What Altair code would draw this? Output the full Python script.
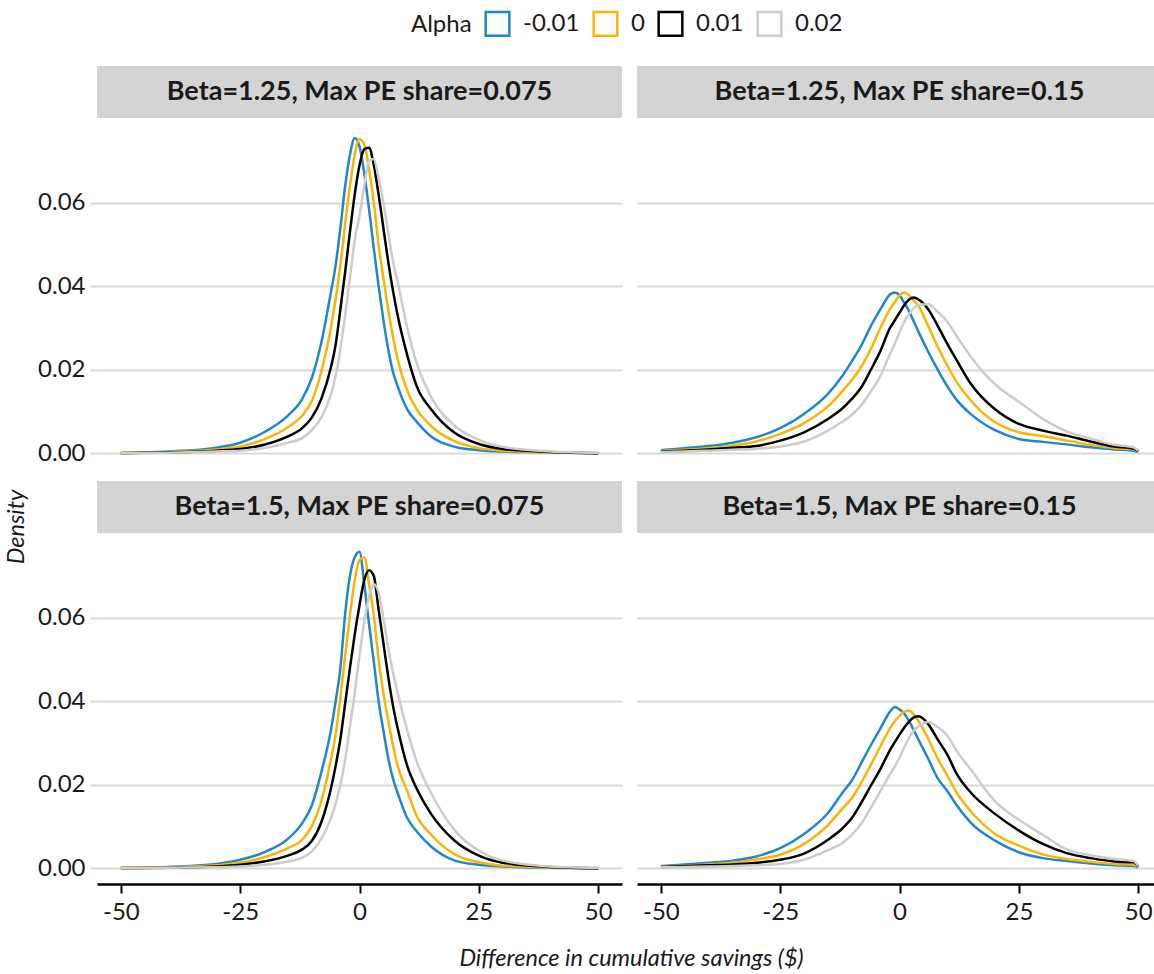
import altair as alt
import pandas as pd

FONT = "Lato"
ALPHAS = ["-0.01", "0", "0.01", "0.02"]
COLORS = ["#1f88cc", "#fcb400", "#000000", "#cccccc"]

TITLES = [
    "Beta=1.25, Max PE share=0.075",
    "Beta=1.25, Max PE share=0.15",
    "Beta=1.5, Max PE share=0.075",
    "Beta=1.5, Max PE share=0.15",
]

X_TICKS = [-50, -25, 0, 25, 50]
Y_TICKS = [0.0, 0.02, 0.04, 0.06]

# x grid used for the narrow (Max PE share = 0.075) panels
X_NARROW = [-50, -40, -30, -25, -20, -15, -12, -10, -8, -6, -5, -4, -3, -2, -1, 0,
            1, 2, 3, 4, 5, 6, 7, 8, 10, 12, 15, 20, 25, 30, 40, 50]
# x grid used for the wide (Max PE share = 0.15) panels
X_WIDE = [-50, -45, -40, -35, -30, -25, -20, -15, -12, -10, -8, -6, -4, -2, -1, 0,
          1, 2, 3, 4, 6, 8, 10, 12, 15, 20, 25, 30, 35, 40, 45, 49, 50]

# Beta=1.25, Max PE share=0.075
TL_M001 = [0.0001, 0.0004, 0.0013, 0.0025, 0.0050, 0.0090, 0.0130, 0.0180, 0.0265, 0.0385,
           0.0450, 0.0540, 0.0640, 0.0715, 0.0755, 0.0735, 0.0670, 0.0585, 0.0490, 0.0400,
           0.0320, 0.0250, 0.0195, 0.0160, 0.0105, 0.0075, 0.0040, 0.0015, 0.0007, 0.0004,
           0.0002, 0.0000]
TL_0 = [0.0001, 0.0003, 0.0009, 0.0016, 0.0033, 0.0062, 0.0090, 0.0125, 0.0195, 0.0300,
        0.0370, 0.0450, 0.0550, 0.0640, 0.0715, 0.0752, 0.0740, 0.0680, 0.0600, 0.0500,
        0.0420, 0.0345, 0.0280, 0.0225, 0.0150, 0.0105, 0.0065, 0.0028, 0.0012, 0.0006,
        0.0002, 0.0000]
TL_001 = [0.0000, 0.0002, 0.0006, 0.0010, 0.0020, 0.0040, 0.0060, 0.0085, 0.0130, 0.0205,
          0.0260, 0.0345, 0.0435, 0.0530, 0.0620, 0.0690, 0.0728, 0.0732, 0.0690, 0.0620,
          0.0540, 0.0460, 0.0390, 0.0330, 0.0235, 0.0160, 0.0105, 0.0048, 0.0022, 0.0010,
          0.0003, 0.0000]
TL_002 = [0.0000, 0.0001, 0.0004, 0.0006, 0.0012, 0.0025, 0.0036, 0.0055, 0.0085, 0.0140,
          0.0185, 0.0250, 0.0330, 0.0420, 0.0510, 0.0570, 0.0640, 0.0700, 0.0705, 0.0660,
          0.0600, 0.0530, 0.0460, 0.0410, 0.0300, 0.0215, 0.0135, 0.0065, 0.0032, 0.0015,
          0.0004, 0.0001]

# Beta=1.25, Max PE share=0.15
TR_M001 = [0.0007, 0.0012, 0.0017, 0.0025, 0.0038, 0.0060, 0.0094, 0.0142, 0.0185, 0.0220,
           0.0258, 0.0305, 0.0345, 0.0380, 0.0385, 0.0378, 0.0360, 0.0340, 0.0315, 0.0290,
           0.0243, 0.0200, 0.0160, 0.0127, 0.0093, 0.0055, 0.0034, 0.0027, 0.0021, 0.0014,
           0.0009, 0.0006, 0.0003]
TR_0 = [0.0005, 0.0008, 0.0012, 0.0018, 0.0028, 0.0046, 0.0072, 0.0112, 0.0148, 0.0175,
        0.0207, 0.0250, 0.0300, 0.0345, 0.0362, 0.0378, 0.0385, 0.0378, 0.0365, 0.0352,
        0.0305, 0.0255, 0.0210, 0.0170, 0.0125, 0.0074, 0.0050, 0.0041, 0.0030, 0.0020,
        0.0012, 0.0009, 0.0004]
TR_001 = [0.0004, 0.0006, 0.0009, 0.0013, 0.0017, 0.0030, 0.0050, 0.0082, 0.0107, 0.0130,
          0.0158, 0.0200, 0.0245, 0.0300, 0.0318, 0.0337, 0.0355, 0.0368, 0.0373, 0.0368,
          0.0345, 0.0305, 0.0262, 0.0222, 0.0165, 0.0105, 0.0070, 0.0054, 0.0042, 0.0028,
          0.0016, 0.0011, 0.0005]
TR_002 = [0.0003, 0.0004, 0.0006, 0.0008, 0.0010, 0.0016, 0.0028, 0.0054, 0.0075, 0.0092,
          0.0115, 0.0148, 0.0185, 0.0238, 0.0262, 0.0290, 0.0315, 0.0333, 0.0348, 0.0355,
          0.0357, 0.0338, 0.0315, 0.0280, 0.0230, 0.0165, 0.0123, 0.0082, 0.0052, 0.0035,
          0.0020, 0.0014, 0.0006]

# Beta=1.5, Max PE share=0.075
BL_M001 = [0.0001, 0.0003, 0.0010, 0.0020, 0.0038, 0.0070, 0.0108, 0.0150, 0.0230, 0.0330,
           0.0400, 0.0480, 0.0610, 0.0700, 0.0745, 0.0758, 0.0680, 0.0585, 0.0495, 0.0400,
           0.0330, 0.0265, 0.0215, 0.0180, 0.0120, 0.0088, 0.0052, 0.0018, 0.0008, 0.0004,
           0.0001, 0.0000]
BL_0 = [0.0001, 0.0002, 0.0007, 0.0013, 0.0026, 0.0048, 0.0068, 0.0100, 0.0160, 0.0260,
        0.0320, 0.0410, 0.0510, 0.0605, 0.0690, 0.0738, 0.0745, 0.0680, 0.0605, 0.0500,
        0.0420, 0.0355, 0.0295, 0.0245, 0.0185, 0.0125, 0.0080, 0.0033, 0.0014, 0.0006,
        0.0002, 0.0000]
BL_001 = [0.0000, 0.0001, 0.0004, 0.0008, 0.0016, 0.0030, 0.0045, 0.0065, 0.0110, 0.0190,
          0.0245, 0.0310, 0.0395, 0.0480, 0.0560, 0.0630, 0.0690, 0.0714, 0.0700, 0.0620,
          0.0540, 0.0460, 0.0390, 0.0335, 0.0245, 0.0190, 0.0130, 0.0065, 0.0030, 0.0013,
          0.0003, 0.0000]
BL_002 = [0.0000, 0.0001, 0.0002, 0.0004, 0.0008, 0.0016, 0.0025, 0.0040, 0.0070, 0.0120,
          0.0155, 0.0200, 0.0260, 0.0340, 0.0420, 0.0510, 0.0590, 0.0650, 0.0680, 0.0660,
          0.0600, 0.0530, 0.0470, 0.0420, 0.0330, 0.0255, 0.0180, 0.0090, 0.0042, 0.0018,
          0.0004, 0.0001]

# Beta=1.5, Max PE share=0.15
BR_M001 = [0.0005, 0.0009, 0.0013, 0.0018, 0.0028, 0.0048, 0.0082, 0.0132, 0.0180, 0.0210,
           0.0252, 0.0295, 0.0335, 0.0375, 0.0386, 0.0380, 0.0370, 0.0352, 0.0330, 0.0307,
           0.0262, 0.0215, 0.0185, 0.0150, 0.0108, 0.0066, 0.0038, 0.0024, 0.0017, 0.0011,
           0.0007, 0.0005, 0.0002]
BR_0 = [0.0004, 0.0006, 0.0009, 0.0013, 0.0021, 0.0032, 0.0058, 0.0103, 0.0142, 0.0168,
        0.0205, 0.0248, 0.0292, 0.0335, 0.0352, 0.0365, 0.0375, 0.0377, 0.0368, 0.0352,
        0.0310, 0.0262, 0.0222, 0.0180, 0.0135, 0.0082, 0.0054, 0.0033, 0.0022, 0.0015,
        0.0010, 0.0008, 0.0003]
BR_001 = [0.0003, 0.0005, 0.0007, 0.0009, 0.0013, 0.0020, 0.0035, 0.0068, 0.0095, 0.0120,
          0.0157, 0.0198, 0.0238, 0.0283, 0.0302, 0.0320, 0.0337, 0.0351, 0.0361, 0.0364,
          0.0345, 0.0308, 0.0272, 0.0225, 0.0180, 0.0130, 0.0090, 0.0058, 0.0036, 0.0024,
          0.0016, 0.0014, 0.0005]
BR_002 = [0.0002, 0.0003, 0.0004, 0.0005, 0.0007, 0.0010, 0.0020, 0.0043, 0.0060, 0.0080,
          0.0107, 0.0145, 0.0185, 0.0225, 0.0243, 0.0265, 0.0290, 0.0313, 0.0330, 0.0340,
          0.0350, 0.0338, 0.0318, 0.0280, 0.0235, 0.0160, 0.0116, 0.0080, 0.0045, 0.0031,
          0.0022, 0.0017, 0.0006]

W_LEFT = 525
W_RIGHT = 517          # right column is cut at the picture's right edge
X_DOM_LEFT = [-55, 55]
X_DOM_RIGHT = [-55, 53.3]
H = 351
STRIP_H = 52
GRID_COLOR = "#d9d9d9"
TEXT_COLOR = "#1a1a1a"
TICK_FS = 24


def make_df(xs, series):
    rows = []
    for a, ys in zip(ALPHAS, series):
        for x, y in zip(xs, ys):
            rows.append({"x": x, "density": y, "alpha": a})
    return pd.DataFrame(rows)


LEGEND = alt.Legend(
    title="Alpha", orient="none", legendX=314, legendY=-108, direction="horizontal",
    titleOrient="left", symbolType="square", symbolSize=560, symbolStrokeWidth=2.5,
    symbolFillColor="transparent", labelFontSize=24, titleFontSize=24,
    titleFontWeight="normal", labelFont=FONT, titleFont=FONT, labelColor=TEXT_COLOR,
    titleColor=TEXT_COLOR, columnPadding=8, labelOffset=12, titlePadding=12,
)


def panel(title, xs, series, width, x_dom, show_x, show_y, density_label=False):
    df = make_df(xs, series)
    if show_x:
        x_axis = alt.Axis(values=X_TICKS, title=None, grid=False, domainColor="black",
                          domainWidth=2.5, tickColor="black", tickWidth=2, tickSize=9,
                          labelFontSize=TICK_FS, labelFont=FONT, labelColor=TEXT_COLOR,
                          labelPadding=7, labelExpr="toString(datum.value)")
    else:
        x_axis = None
    if show_y:
        y_axis = alt.Axis(values=Y_TICKS, format=".2f", title=None, domain=False,
                          grid=True, gridColor=GRID_COLOR, gridWidth=2,
                          tickColor=GRID_COLOR, tickWidth=2, tickSize=7,
                          labelFontSize=TICK_FS, labelFont=FONT, labelColor=TEXT_COLOR,
                          labelPadding=5)
    else:
        y_axis = alt.Axis(values=Y_TICKS, title=None, domain=False, labels=False,
                          ticks=False, grid=True, gridColor=GRID_COLOR, gridWidth=2)

    lines = alt.Chart(df).mark_line(strokeWidth=2.5, interpolate="monotone", clip=True).encode(
        x=alt.X("x:Q", scale=alt.Scale(domain=x_dom, nice=False, zero=False), axis=x_axis),
        y=alt.Y("density:Q", scale=alt.Scale(domain=[-0.0038, 0.0803], nice=False, zero=False),
                axis=y_axis),
        color=alt.Color("alpha:N", scale=alt.Scale(domain=ALPHAS, range=COLORS), legend=LEGEND),
    )
    sdf = pd.DataFrame({"label": [title]})
    strip = alt.Chart(sdf).mark_rect(color="#d4d4d4").encode(
        x=alt.value(0), x2=alt.value(width), y=alt.value(-STRIP_H), y2=alt.value(0))
    stext = alt.Chart(sdf).mark_text(font=FONT, fontSize=27, fontWeight="bold",
                                     color=TEXT_COLOR, baseline="middle").encode(
        text="label:N", x=alt.value(W_LEFT / 2), y=alt.value(-STRIP_H / 2))
    layers = [strip, stext, lines]
    if density_label:
        ddf = pd.DataFrame({"label": ["Density"]})
        dtext = alt.Chart(ddf).mark_text(font=FONT, fontSize=23.5, fontStyle="italic",
                                         color=TEXT_COLOR, angle=270, baseline="middle").encode(
            text="label:N", x=alt.value(-80), y=alt.value(-6))
        layers.append(dtext)
    return alt.layer(*layers).properties(width=width, height=H)


tl = panel(TITLES[0], X_NARROW, [TL_M001, TL_0, TL_001, TL_002], W_LEFT, X_DOM_LEFT, False, True)
tr = panel(TITLES[1], X_WIDE, [TR_M001, TR_0, TR_001, TR_002], W_RIGHT, X_DOM_RIGHT, False, False)
bl = panel(TITLES[2], X_NARROW, [BL_M001, BL_0, BL_001, BL_002], W_LEFT, X_DOM_LEFT, True, True,
           density_label=True)
br = panel(TITLES[3], X_WIDE, [BR_M001, BR_0, BR_001, BR_002], W_RIGHT, X_DOM_RIGHT, True, False)

top = alt.hconcat(tl, tr, spacing=15)
bottom = alt.hconcat(bl, br, spacing=15)

chart = alt.vconcat(top, bottom, spacing=12).properties(
    title=alt.TitleParams(text="Difference in cumulative savings ($)", orient="bottom",
                          anchor="middle", font=FONT, fontSize=23.5, fontStyle="italic",
                          fontWeight="normal", color=TEXT_COLOR, offset=23, dx=52),
    padding={"left": 5, "top": 10, "right": 0, "bottom": 0},
    background="white",
).configure(font=FONT).configure_view(strokeWidth=0, stroke="transparent")

chart.save("out.html", embed_options={"renderer": "svg", "actions": False})
